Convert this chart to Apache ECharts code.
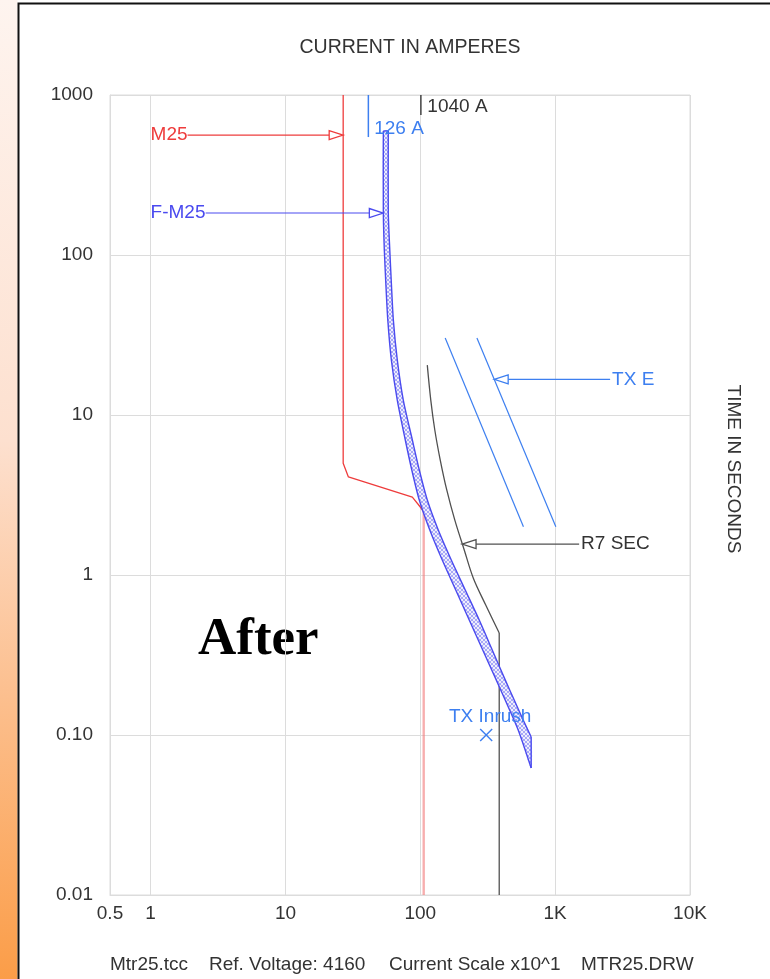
<!DOCTYPE html>
<html>
<head>
<meta charset="utf-8">
<script src="https://cdn.jsdelivr.net/npm/echarts@6/dist/echarts.min.js"></script>
<style>
  html, body { margin: 0; padding: 0; background: #fff; }
  #chart { width: 770px; height: 979px; }
</style>
</head>
<body>
<div id="chart"></div>
<script>
// ---- Time-current coordination study: Mtr25 (log-log) ----

// Axis ranges (amperes, seconds)
const currentRange = [0.5, 10000];
const timeRange = [0.01, 1000];

// M25 motor relay characteristic
const m25Curve = [[26.8, 1000], [26.8, 5.0], [29.3, 4.1], [87.3, 3.07], [100, 2.66], [106, 2.48]];
const m25Instantaneous = [[106, 2.48], [106, 0.01]];

// F-M25 fuse band: minimum melt and total clear curves
const fm25MinMelt = [
  [53.2, 596], [53.2, 183], [54.1, 107.5], [55.5, 66.8], [57.4, 39.3], [61.0, 22.1],
  [67.5, 12.4], [77.4, 6.98], [86.5, 4.53], [98.3, 2.94], [117.6, 1.91], [145.5, 1.24],
  [183.2, 0.806], [230.6, 0.523], [290.4, 0.340], [365.6, 0.221], [426.2, 0.1655],
  [532, 0.1075], [664, 0.0622]
];
const fm25TotalClear = [
  [57.9, 596], [57.9, 183], [59.4, 107.5], [61.0, 66.8], [63.1, 39.3], [67.5, 22.1],
  [74.8, 12.4], [87.3, 6.98], [98.3, 4.53], [112.7, 2.94], [135.9, 1.91], [169.7, 1.24],
  [215.4, 0.806], [273.5, 0.523], [341.6, 0.340], [426.2, 0.221], [497, 0.1655],
  [579.4, 0.124], [664, 0.0972]
];

// R7 SEC relay curve with definite-time tail
const r7SecCurve = [
  [112.7, 20.5], [119.6, 12.4], [128.1, 8.06], [140.6, 5.23], [157.1, 3.40],
  [180.1, 2.21], [211.8, 1.433], [247, 0.958], [305.6, 0.649], [384.8, 0.434]
];
const r7SecDefinite = [[384.8, 0.434], [384.8, 0.01]];

// TX E transformer damage curves
const txeCurveA = [[153, 30.3], [582, 2.0]];
const txeCurveB = [[263, 30.3], [1012, 2.0]];

// Transformer inrush point
const txInrushPoint = [308, 0.1];

// Pickup markers along the top edge
const markerNames = ['126 A', '1040 A'];
const markerAmps = [41.2, 101];
const markerBottomTime = [546, 750];
const markerTextAmps = [45.5, 112.8];
const markerTextTime = [613, 841];

// Curve callouts: label, time level, text start, leader start, arrow tip
const calloutNames = ['M25', 'F-M25', 'TX E', 'R7 SEC'];
const calloutTime = [562, 183, 16.7, 1.56];
const calloutTextAmps = [1.0, 1.0, 2643, 1558];
const calloutLeaderAmps = [1.88, 2.56, 2556, 1506];
const calloutTipAmps = [26.8, 53.2, 353, 204];

// ---- styling ----
const RED = '#ee3c3c';
const VIOLET = '#4a4aef';
const AZURE = '#3d7ff0';
const GREY = '#505050';
const calloutColors = [RED, VIOLET, AZURE, GREY];
const calloutTextColors = [RED, VIOLET, AZURE, '#333'];
const markerColors = [AZURE, '#444'];
const markerTextColors = [AZURE, '#333'];
const SANS = '"Liberation Sans", Arial, Helvetica, sans-serif';

// cross-hatch fill for the fuse band
const hatch = document.createElement('canvas');
hatch.width = 4; hatch.height = 4;
(function () {
  const g = hatch.getContext('2d');
  g.fillStyle = '#eeeefd';
  g.fillRect(0, 0, 4, 4);
  g.strokeStyle = '#9597f4';
  g.lineWidth = 0.8;
  g.beginPath();
  g.moveTo(0, 4); g.lineTo(4, 0);
  g.moveTo(0, 0); g.lineTo(4, 4);
  g.stroke();
})();

function fmtCurrent(v) {
  const r = Number(Number(v).toPrecision(3));
  return r >= 1000 ? (r / 1000) + 'K' : String(r);
}
function fmtTime(v) {
  const r = Number(Number(v).toPrecision(3));
  return r < 1 ? r.toFixed(2) : String(r);
}

function lineSeries(data, color, width, smooth) {
  return {
    type: 'line', data: data, symbol: 'none', silent: true, smooth: smooth || false,
    lineStyle: { color: color, width: width }, z: 3
  };
}

const chart = echarts.init(document.getElementById('chart'), null, { renderer: 'canvas' });

chart.setOption({
  animation: false,
  backgroundColor: '#fff',
  grid: { left: 110, top: 95, width: 580, height: 800, show: true, borderColor: '#dcdcdc', borderWidth: 1, containLabel: false, outerBoundsMode: 'none' },
  xAxis: {
    type: 'log', logBase: 10, min: currentRange[0], max: currentRange[1],
    axisLine: { show: true, lineStyle: { color: '#dcdcdc', width: 1 } },
    axisTick: { show: false },
    minorTick: { show: false },
    splitLine: { show: true, lineStyle: { color: '#dcdcdc', width: 1 } },
    axisLabel: { color: '#333', fontSize: 19, fontFamily: SANS, margin: 9, formatter: fmtCurrent }
  },
  yAxis: {
    type: 'log', logBase: 10, min: timeRange[0], max: timeRange[1],
    axisLine: { show: true, lineStyle: { color: '#dcdcdc', width: 1 } },
    axisTick: { show: false },
    minorTick: { show: false },
    splitLine: { show: true, lineStyle: { color: '#dcdcdc', width: 1 } },
    axisLabel: { color: '#333', fontSize: 19, fontFamily: SANS, margin: 17, formatter: fmtTime }
  },
  graphic: [
    // left page strip
    {
      type: 'rect', left: 0, top: 0, silent: true, z: -10,
      shape: { width: 17.5, height: 979 },
      style: {
        fill: new echarts.graphic.LinearGradient(0, 0, 0, 1, [
          { offset: 0, color: '#fef4ef' },
          { offset: 0.45, color: '#fde0cf' },
          { offset: 0.72, color: '#fcbe8c' },
          { offset: 1, color: '#fb9d48' }
        ])
      }
    },
    // frame
    {
      type: 'rect', silent: true, z: -9,
      shape: { x: 18.5, y: 3.5, width: 800, height: 1000 },
      style: { fill: null, stroke: '#111', lineWidth: 2 }
    },
    {
      type: 'text', silent: true, x: 410, y: 48,
      style: { text: 'CURRENT IN AMPERES', fill: '#333', font: '19.5px ' + SANS, align: 'center', verticalAlign: 'middle' }
    },
    {
      type: 'text', silent: true, x: 733, y: 469, rotation: -Math.PI / 2,
      style: { text: 'TIME IN SECONDS', fill: '#333', font: '19px ' + SANS, align: 'center', verticalAlign: 'middle' }
    },
    {
      type: 'text', silent: true, x: 198, y: 640,
      style: { text: 'After', fill: '#000', font: 'bold 53px "Liberation Serif", "Times New Roman", serif', align: 'left', verticalAlign: 'middle' }
    },
    { type: 'text', silent: true, x: 110, y: 965, style: { text: 'Mtr25.tcc', fill: '#333', font: '19px ' + SANS, align: 'left', verticalAlign: 'middle' } },
    { type: 'text', silent: true, x: 209, y: 965, style: { text: 'Ref. Voltage: 4160', fill: '#333', font: '19px ' + SANS, align: 'left', verticalAlign: 'middle' } },
    { type: 'text', silent: true, x: 389, y: 965, style: { text: 'Current Scale x10^1', fill: '#333', font: '19px ' + SANS, align: 'left', verticalAlign: 'middle' } },
    { type: 'text', silent: true, x: 581, y: 965, style: { text: 'MTR25.DRW', fill: '#333', font: '19px ' + SANS, align: 'left', verticalAlign: 'middle' } }
  ],
  series: [
    lineSeries(m25Curve, RED, 1.3),
    lineSeries(m25Instantaneous, 'rgba(242,120,120,0.6)', 2.4),
    // fuse band: hatched fill plus smoothed edges and end caps
    {
      type: 'custom', silent: true, z: 4,
      data: [fm25MinMelt[0]],
      renderItem: function (params, api) {
        const left = fm25MinMelt.map(p => api.coord(p));
        const right = fm25TotalClear.map(p => api.coord(p));
        const lastL = left[left.length - 1], lastR = right[right.length - 1];
        const edge = { stroke: VIOLET, lineWidth: 1.4, fill: null };
        return {
          type: 'group',
          children: [
            { type: 'polygon', shape: { points: left.concat(right.slice().reverse()), smooth: 0.25 }, style: { fill: { image: hatch, repeat: 'repeat' }, stroke: null } },
            { type: 'polyline', shape: { points: left, smooth: 0.25 }, style: edge },
            { type: 'polyline', shape: { points: right, smooth: 0.25 }, style: edge },
            { type: 'line', shape: { x1: left[0][0], y1: left[0][1], x2: right[0][0], y2: right[0][1] }, style: edge },
            { type: 'line', shape: { x1: lastL[0], y1: lastL[1], x2: lastR[0], y2: lastR[1] }, style: edge }
          ]
        };
      }
    },
    lineSeries(r7SecCurve, GREY, 1.3, 0.35),
    lineSeries(r7SecDefinite, GREY, 1.3),
    lineSeries(txeCurveA, AZURE, 1.2),
    lineSeries(txeCurveB, AZURE, 1.2),
    // pickup markers
    {
      type: 'custom', silent: true, z: 5,
      data: markerAmps.map((a, i) => [a, timeRange[1], i]),
      renderItem: function (params, api) {
        const i = params.dataIndex;
        const top = api.coord([markerAmps[i], timeRange[1]]);
        const bot = api.coord([markerAmps[i], markerBottomTime[i]]);
        const tp = api.coord([markerTextAmps[i], markerTextTime[i]]);
        return {
          type: 'group',
          children: [
            { type: 'line', shape: { x1: top[0], y1: top[1], x2: bot[0], y2: bot[1] }, style: { stroke: markerColors[i], lineWidth: 1.5 } },
            { type: 'text', x: tp[0], y: tp[1], style: { text: markerNames[i], fill: markerTextColors[i], font: '19px ' + SANS, align: 'left', verticalAlign: 'middle' } }
          ]
        };
      }
    },
    // callouts with open arrowheads
    {
      type: 'custom', silent: true, z: 6,
      data: calloutNames.map((n, i) => [calloutTipAmps[i], calloutTime[i], i]),
      renderItem: function (params, api) {
        const i = params.dataIndex;
        const c = calloutColors[i];
        const tip = api.coord([calloutTipAmps[i], calloutTime[i]]);
        const from = api.coord([calloutLeaderAmps[i], calloutTime[i]]);
        const tp = api.coord([calloutTextAmps[i], calloutTime[i]]);
        const dir = from[0] > tip[0] ? 1 : -1;
        const bx = tip[0] + dir * 14;
        return {
          type: 'group',
          children: [
            { type: 'line', shape: { x1: from[0], y1: from[1], x2: bx, y2: tip[1] }, style: { stroke: c, lineWidth: 1.2 } },
            { type: 'polygon', shape: { points: [[tip[0], tip[1]], [bx, tip[1] - 4.5], [bx, tip[1] + 4.5]] }, style: { fill: '#fff', stroke: c, lineWidth: 1.3 } },
            { type: 'text', x: tp[0], y: tp[1], style: { text: calloutNames[i], fill: calloutTextColors[i], font: '19px ' + SANS, align: 'left', verticalAlign: 'middle' } }
          ]
        };
      }
    },
    // transformer inrush point
    {
      type: 'custom', silent: true, z: 6,
      data: [txInrushPoint],
      renderItem: function (params, api) {
        const p = api.coord(txInrushPoint);
        const s = 6;
        return {
          type: 'group',
          children: [
            { type: 'line', shape: { x1: p[0] - s, y1: p[1] - s, x2: p[0] + s, y2: p[1] + s }, style: { stroke: AZURE, lineWidth: 1.4 } },
            { type: 'line', shape: { x1: p[0] - s, y1: p[1] + s, x2: p[0] + s, y2: p[1] - s }, style: { stroke: AZURE, lineWidth: 1.4 } },
            { type: 'text', x: p[0] + 4, y: p[1] - 18, style: { text: 'TX Inrush', fill: AZURE, font: '19px ' + SANS, align: 'center', verticalAlign: 'middle' } }
          ]
        };
      }
    }
  ]
});
</script>
</body>
</html>
